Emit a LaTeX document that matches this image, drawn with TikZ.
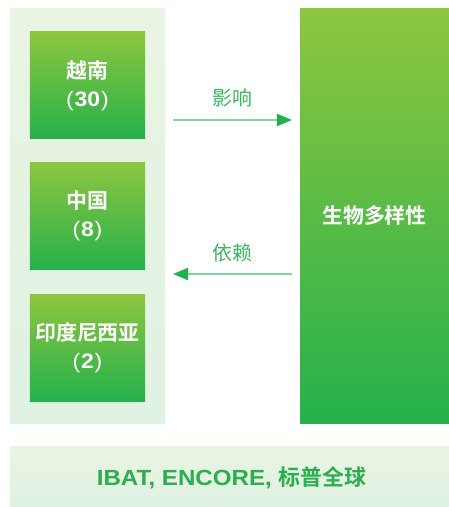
\documentclass[tikz,border=0pt]{standalone}
\usepackage{fontspec}
\setmainfont{Liberation Sans}[FakeStretch=1.1]
\newfontfamily\cjkb{Noto Sans CJK SC Bold}
\newfontfamily\cjk{Noto Sans CJK SC}
\usetikzlibrary{arrows.meta,calc}
\definecolor{gtop}{HTML}{8DC63F}
\definecolor{gbot}{HTML}{25B14B}
\definecolor{ptop}{HTML}{EAF4E2}
\definecolor{pbot}{HTML}{DFF2E4}
\definecolor{lblc}{HTML}{3DB862}
\definecolor{linec}{HTML}{80D69E}
\definecolor{tipc}{HTML}{22B14C}
\definecolor{btxt}{HTML}{2AAE4E}
\newcommand{\numpar}[1]{(\hspace{0.8bp}\textbf{#1}\hspace{0.8bp})}
\tikzset{
  panel/.style={inner sep=0pt, outer sep=0pt, top color=ptop, bottom color=pbot, draw=none},
  gbox/.style={inner sep=0pt, outer sep=0pt, top color=gtop, bottom color=gbot, draw=none,
    text=white, align=center, font=\fontsize{21}{28}\selectfont},
  lbl/.style={text=lblc, font=\cjk\fontsize{20}{24}\selectfont, inner sep=0pt},
  flow/.style={draw=linec, line width=2bp, -{Triangle[length=15bp,width=12bp,color=tipc]}}
}
\begin{document}
\begin{tikzpicture}[x=1bp,y=-1bp]
\useasboundingbox (0,0) rectangle (449,507);
\fill[white] (0,0) rectangle (449,507);
% panels
\node[panel, minimum width=155bp, minimum height=414bp] (lp) at (87.5,216) {};
\node[panel, minimum width=439bp, minimum height=61bp] (bp) at (229.5,476.5) {};
% boxes
\node[gbox, minimum width=115bp, minimum height=107bp] (vn) at (87.5,85.5)
  {{\cjkb 越南}\\\numpar{30}};
\node[gbox, minimum width=115bp, minimum height=107bp] (cn) at (87.5,216)
  {{\cjkb 中国}\\\numpar{8}};
\node[gbox, minimum width=115bp, minimum height=107bp] (id) at (87.5,347.5)
  {{\cjkb 印度尼西亚}\\\numpar{2}};
\node[gbox, minimum width=149bp, minimum height=414bp] (bio) at (374.5,216)
  {{\cjkb 生物多样性}};
% bottom text
\node[text=btxt, inner sep=0pt, font=\fontsize{22}{26}\selectfont] (bt) at (231.5,478)
  {\textbf{IBAT, ENCORE,} {\cjkb 标普全球}};
% arrows
\coordinate (a1) at (0,120);
\coordinate (a2) at (0,274);
\draw[flow, shorten <=8bp, shorten >=8bp] (lp.east |- a1) -- (bio.west |- a1);
\draw[flow, shorten <=8bp, shorten >=8bp] (bio.west |- a2) -- (lp.east |- a2);
\node[lbl] (l1) at (232,98) {影响};
\node[lbl] (l2) at (232,253) {依赖};
\end{tikzpicture}
\end{document}
